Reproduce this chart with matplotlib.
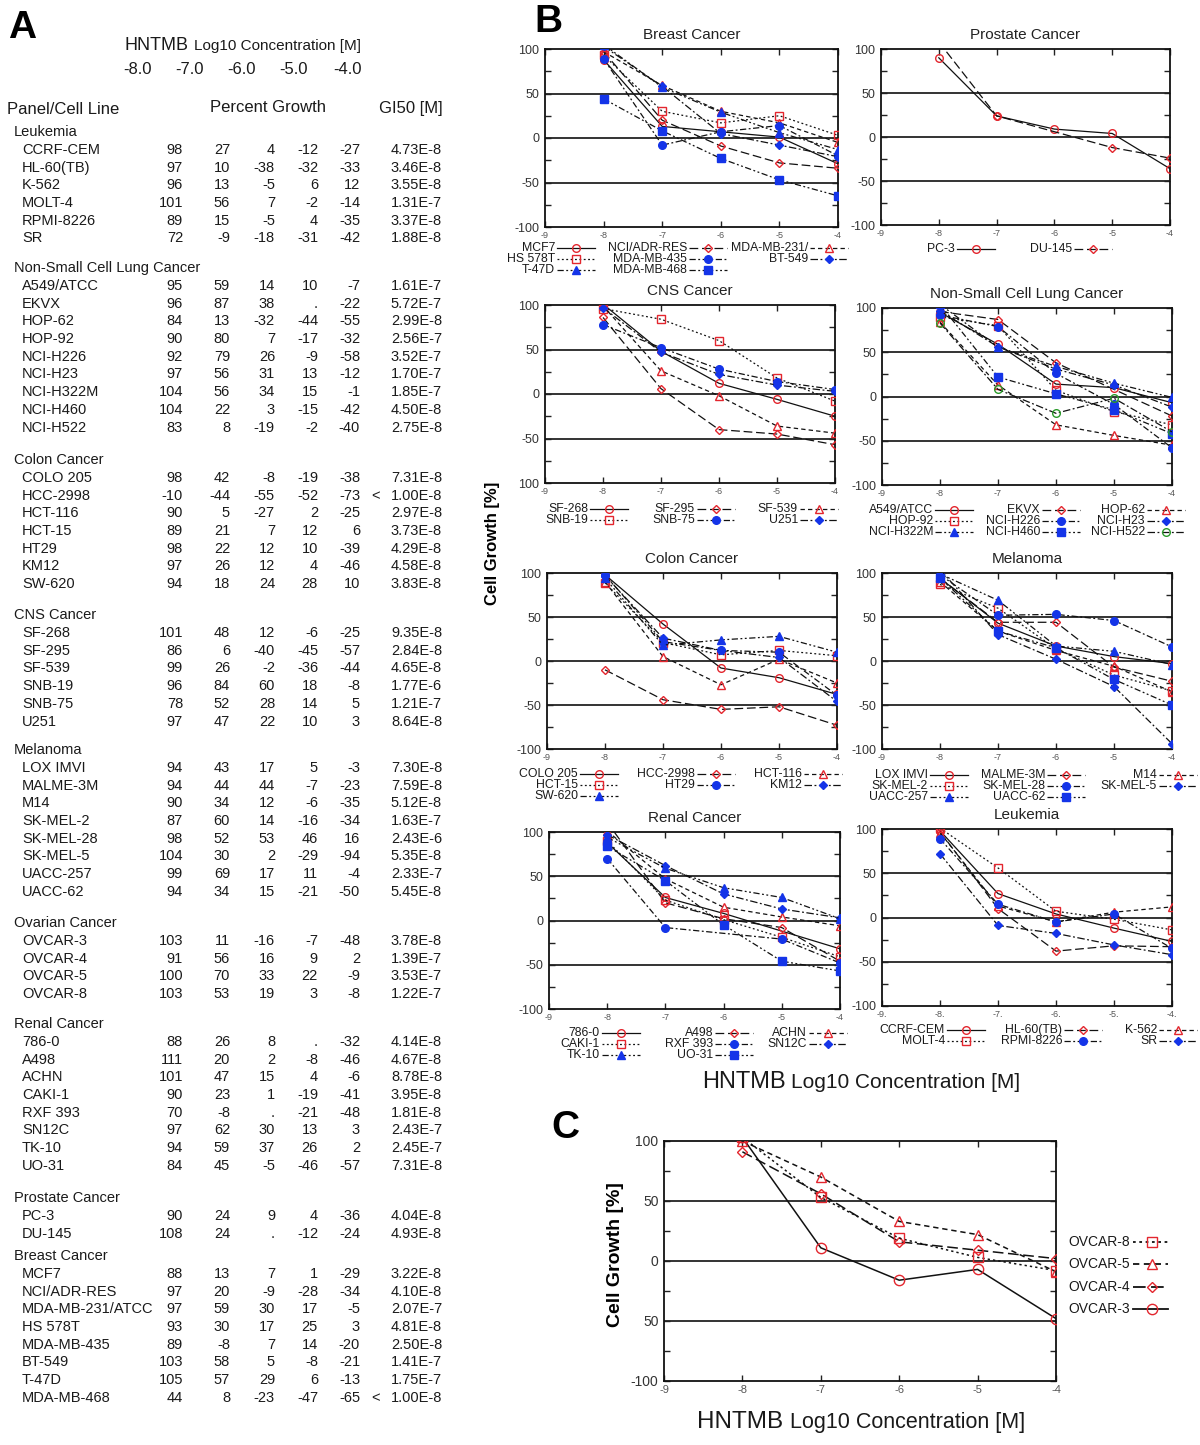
import matplotlib
matplotlib.use('Agg')
import matplotlib.pyplot as plt
from matplotlib.lines import Line2D
from matplotlib import font_manager as fm

# 字体：优先使用窄体
names_installed = {f.name for f in fm.fontManager.ttflist}
NARROW = 'Liberation Sans Narrow' if 'Liberation Sans Narrow' in names_installed else 'Liberation Sans'
plt.rcParams['font.family'] = ['Liberation Sans', 'DejaVu Sans']
plt.rcParams['axes.unicode_minus'] = False

# ---------------- data (NCI-60 five-dose table) ----------------
conc = [-8, -7, -6, -5, -4]
conc_labels = ['-8.0', '-7.0', '-6.0', '-5.0', '-4.0']

leukemia_lines = ['CCRF-CEM', 'HL-60(TB)', 'K-562', 'MOLT-4', 'RPMI-8226', 'SR']
leukemia_growth = [[98, 27, 4, -12, -27], [97, 10, -38, -32, -33], [96, 13, -5, 6, 12],
                   [101, 56, 7, -2, -14], [89, 15, -5, 4, -35], [72, -9, -18, -31, -42]]
leukemia_gi50 = ['4.73E-8', '3.46E-8', '3.55E-8', '1.31E-7', '3.37E-8', '1.88E-8']

nsclc_lines = ['A549/ATCC', 'EKVX', 'HOP-62', 'HOP-92', 'NCI-H226', 'NCI-H23',
               'NCI-H322M', 'NCI-H460', 'NCI-H522']
nsclc_growth = [[95, 59, 14, 10, -7], [96, 87, 38, None, -22], [84, 13, -32, -44, -55],
                [90, 80, 7, -17, -32], [92, 79, 26, -9, -58], [97, 56, 31, 13, -12],
                [104, 56, 34, 15, -1], [104, 22, 3, -15, -42], [83, 8, -19, -2, -40]]
nsclc_gi50 = ['1.61E-7', '5.72E-7', '2.99E-8', '2.56E-7', '3.52E-7', '1.70E-7',
              '1.85E-7', '4.50E-8', '2.75E-8']

colon_lines = ['COLO 205', 'HCC-2998', 'HCT-116', 'HCT-15', 'HT29', 'KM12', 'SW-620']
colon_growth = [[98, 42, -8, -19, -38], [-10, -44, -55, -52, -73], [90, 5, -27, 2, -25],
                [89, 21, 7, 12, 6], [98, 22, 12, 10, -39], [97, 26, 12, 4, -46],
                [94, 18, 24, 28, 10]]
colon_gi50 = ['7.31E-8', '<1.00E-8', '2.97E-8', '3.73E-8', '4.29E-8', '4.58E-8', '3.83E-8']

cns_lines = ['SF-268', 'SF-295', 'SF-539', 'SNB-19', 'SNB-75', 'U251']
cns_growth = [[101, 48, 12, -6, -25], [86, 6, -40, -45, -57], [99, 26, -2, -36, -44],
              [96, 84, 60, 18, -8], [78, 52, 28, 14, 5], [97, 47, 22, 10, 3]]
cns_gi50 = ['9.35E-8', '2.84E-8', '4.65E-8', '1.77E-6', '1.21E-7', '8.64E-8']

melanoma_lines = ['LOX IMVI', 'MALME-3M', 'M14', 'SK-MEL-2', 'SK-MEL-28', 'SK-MEL-5',
                  'UACC-257', 'UACC-62']
melanoma_growth = [[94, 43, 17, 5, -3], [94, 44, 44, -7, -23], [90, 34, 12, -6, -35],
                   [87, 60, 14, -16, -34], [98, 52, 53, 46, 16], [104, 30, 2, -29, -94],
                   [99, 69, 17, 11, -4], [94, 34, 15, -21, -50]]
melanoma_gi50 = ['7.30E-8', '7.59E-8', '5.12E-8', '1.63E-7', '2.43E-6', '5.35E-8',
                 '2.33E-7', '5.45E-8']

ovarian_lines = ['OVCAR-3', 'OVCAR-4', 'OVCAR-5', 'OVCAR-8']
ovarian_growth = [[103, 11, -16, -7, -48], [91, 56, 16, 9, 2], [100, 70, 33, 22, -9],
                  [103, 53, 19, 3, -8]]
ovarian_gi50 = ['3.78E-8', '1.39E-7', '3.53E-7', '1.22E-7']

renal_lines = ['786-0', 'A498', 'ACHN', 'CAKI-1', 'RXF 393', 'SN12C', 'TK-10', 'UO-31']
renal_growth = [[88, 26, 8, None, -32], [111, 20, 2, -8, -46], [101, 47, 15, 4, -6],
                [90, 23, 1, -19, -41], [70, -8, None, -21, -48], [97, 62, 30, 13, 3],
                [94, 59, 37, 26, 2], [84, 45, -5, -46, -57]]
renal_gi50 = ['4.14E-8', '4.67E-8', '8.78E-8', '3.95E-8', '1.81E-8', '2.43E-7',
              '2.45E-7', '7.31E-8']

prostate_lines = ['PC-3', 'DU-145']
prostate_growth = [[90, 24, 9, 4, -36], [108, 24, None, -12, -24]]
prostate_gi50 = ['4.04E-8', '4.93E-8']

breast_lines = ['MCF7', 'NCI/ADR-RES', 'MDA-MB-231/ATCC', 'HS 578T', 'MDA-MB-435',
                'BT-549', 'T-47D', 'MDA-MB-468']
breast_growth = [[88, 13, 7, 1, -29], [97, 20, -9, -28, -34], [97, 59, 30, 17, -5],
                 [93, 30, 17, 25, 3], [89, -8, 7, 14, -20], [103, 58, 5, -8, -21],
                 [105, 57, 29, 6, -13], [44, 8, -23, -47, -65]]
breast_gi50 = ['3.22E-8', '4.10E-8', '2.07E-7', '4.81E-8', '2.50E-8', '1.41E-7',
               '1.75E-7', '<1.00E-8']

legend_names = {'MDA-MB-231/ATCC': 'MDA-MB-231/'}

# ---------------- styles ----------------
RED = '#e3262e'
BLUE = '#1434e8'
GREEN = '#2a9a2a'
INK = '#1a1a1a'
# (linestyle, marker, facecolor, edgecolor, markersize)
series_styles = [
    ('-', 'o', 'none', RED, 5.5),
    ((0, (7, 3)), 'D', 'none', RED, 3.8),
    ((0, (3.5, 2.5)), '^', 'none', RED, 5.5),
    ((0, (1.5, 2)), 's', 'none', RED, 5.5),
    ((0, (5, 2, 1.5, 2)), 'o', BLUE, BLUE, 5.5),
    ((0, (6, 2, 1.5, 2)), 'D', BLUE, BLUE, 4),
    ((0, (5, 2, 1.5, 2, 1.5, 2)), '^', BLUE, BLUE, 5.5),
    ((0, (5, 2, 1.5, 2, 1.5, 2)), 's', BLUE, BLUE, 5.5),
    ((0, (6, 2, 1.5, 2)), 'o', 'none', GREEN, 5.5),
]

W, H = 1200, 1445
fig = plt.figure(figsize=(W / 100, H / 100), dpi=100)
fig.patch.set_facecolor('white')
renderer = fig.canvas.get_renderer()


def fx(x):
    return x / W


def fy(y):
    return 1 - y / H


def put(x, y, s, **kw):
    kw.setdefault('va', 'center')
    kw.setdefault('color', INK)
    return fig.text(fx(x), fy(y), s, **kw)


def two_part(xc, y, s1, fs1, s2, fs2, gap=6):
    """HNTMB + Log10 ... 两段字号不同的标题，整体居中"""
    t1 = put(0, y, s1, family=NARROW, fontsize=fs1, va='baseline')
    t2 = put(0, y, s2, family=NARROW, fontsize=fs2, va='baseline')
    w1 = t1.get_window_extent(renderer).width
    w2 = t2.get_window_extent(renderer).width
    x0 = xc - (w1 + gap + w2) / 2
    t1.set_x(fx(x0))
    t2.set_x(fx(x0 + w1 + gap))


# ---------------- panel A: table ----------------
put(22, 28, 'A', ha='center', fontsize=28, fontweight='bold', color='black')
two_part(243, 50, 'HNTMB', 13, 'Log10 Concentration [M]', 11)
for xc, lab in zip([137, 189, 242, 294, 347], conc_labels):
    put(xc, 69, lab, ha='center', family=NARROW, fontsize=12)
put(7, 109, 'Panel/Cell Line', family=NARROW, fontsize=12)
put(268, 108, 'Percent Growth', ha='center', family=NARROW, fontsize=12)
put(443, 108, 'GI50 [M]', ha='right', family=NARROW, fontsize=12)

table_groups = [
    ('Leukemia', leukemia_lines, leukemia_growth, leukemia_gi50),
    ('Non-Small Cell Lung Cancer', nsclc_lines, nsclc_growth, nsclc_gi50),
    ('Colon Cancer', colon_lines, colon_growth, colon_gi50),
    ('CNS Cancer', cns_lines, cns_growth, cns_gi50),
    ('Melanoma', melanoma_lines, melanoma_growth, melanoma_gi50),
    ('Ovarian Cancer', ovarian_lines, ovarian_growth, ovarian_gi50),
    ('Renal Cancer', renal_lines, renal_growth, renal_gi50),
    ('Prostate Cancer', prostate_lines, prostate_growth, prostate_gi50),
    ('Breast Cancer', breast_lines, breast_growth, breast_gi50),
]
header_y = [132, 268, 460, 615, 750, 923, 1024, 1198, 1256]
num_right = [183, 230, 275, 318, 360]
TFS = 10.5

for (gname, lines, growth, gi50), hy in zip(table_groups, header_y):
    put(14, hy, gname, fontsize=TFS)
    for i, (name, vals, g) in enumerate(zip(lines, growth, gi50)):
        y = hy + 18 + i * 17.7
        put(22, y, name, fontsize=TFS)
        for xr, v in zip(num_right, vals):
            put(xr, y, '.' if v is None else str(v), ha='right', fontsize=TFS)
        if g.startswith('<'):
            put(376, y, '<', ha='center', fontsize=TFS)
            g = g[1:]
        put(442, y, g, ha='right', fontsize=TFS)


# ---------------- panel B / C helpers ----------------
def make_axes(l, t, r, b):
    return fig.add_axes([fx(l), fy(b), (r - l) / W, (b - t) / H])


def style_axes(ax, yfs=9, xfs=6.5, ylabels=None, xlabels=None):
    ax.set_xlim(-9, -4)
    ax.set_ylim(-100, 100)
    ax.set_xticks(range(-9, -3))
    ax.set_yticks([-100, -50, 0, 50, 100])
    ax.set_yticks([-75, -25, 25, 75], minor=True)
    if ylabels is not None:
        ax.set_yticklabels(ylabels)
    if xlabels is not None:
        ax.set_xticklabels(xlabels)
    ax.tick_params(which='both', direction='in', top=True, right=True, length=4,
                   width=1, color='#222')
    ax.tick_params(axis='y', labelsize=yfs, labelcolor='#333', pad=4)
    ax.tick_params(axis='x', labelsize=xfs, labelcolor='#555', pad=3)
    for s in ax.spines.values():
        s.set_linewidth(1.3)
        s.set_color('#111')
    for yl in (50, 0, -50):
        ax.axhline(yl, color='#111', lw=1.2, zorder=1)


def plot_series(ax, growth, idx, mscale=1.0, lw=0.9):
    ls, mk, fc, ec, ms = series_styles[idx]
    xs = [c for c, v in zip(conc, growth) if v is not None]
    ys = [v for v in growth if v is not None]
    ax.plot(xs, ys, color='#111', lw=lw, ls=ls, marker=mk, mfc=fc, mec=ec,
            ms=ms * mscale, mew=1.0, zorder=3)


def draw_key(names, col_right, y0, fs=8.8, dy=11, sample=38, ncol=3):
    for i, name in enumerate(names):
        r, c = divmod(i, ncol)
        xr = col_right[c]
        y = y0 + r * dy
        ls, mk, fc, ec, ms = series_styles[i]
        put(xr - sample - 2, y, legend_names.get(name, name), ha='right', fontsize=fs)
        fig.add_artist(Line2D([fx(xr - sample), fx(xr)], [fy(y), fy(y)],
                              transform=fig.transFigure, color='#111', lw=0.9, ls=ls))
        fig.add_artist(Line2D([fx(xr - sample / 2)], [fy(y)], transform=fig.transFigure,
                              marker=mk, mfc=fc, mec=ec, ms=ms, mew=1.0, ls='none'))


# ---------------- panel B ----------------
put(548, 22, 'B', ha='center', fontsize=28, fontweight='bold', color='black')

b_panels = [
    ('Breast Cancer', breast_lines, breast_growth, (545, 49, 838, 227), [595, 727, 848], 248),
    ('Prostate Cancer', prostate_lines, prostate_growth, (881, 49, 1170, 225), [995, 1112], 249),
    ('CNS Cancer', cns_lines, cns_growth, (545, 305, 835, 483), [628, 735, 838], 509),
    ('Non-Small Cell Lung Cancer', nsclc_lines, nsclc_growth, (882, 308, 1172, 485),
     [973, 1080, 1185], 510),
    ('Colon Cancer', colon_lines, colon_growth, (547, 573, 837, 749), [618, 735, 842], 774),
    ('Melanoma', melanoma_lines, melanoma_growth, (882, 573, 1172, 749), [968, 1085, 1197], 775),
    ('Renal Cancer', renal_lines, renal_growth, (549, 832, 840, 1009), [640, 753, 847], 1033),
    ('Leukemia', leukemia_lines, leukemia_growth, (882, 829, 1172, 1006), [985, 1102, 1197], 1030),
]

for title, lines, growth, box, cols, ky in b_panels:
    ax = make_axes(*box)
    ylabels = None
    xlabels = None
    if title == 'CNS Cancer':
        ylabels = ['100', '-50', '0', '50', '100']
    if title == 'Leukemia':
        xlabels = ['-9.', '-8.', '-7.', '-6.', '-5.', '-4.']
    style_axes(ax, ylabels=ylabels, xlabels=xlabels)
    for i, g in enumerate(growth):
        plot_series(ax, g, i)
    ax.set_title(title, family=NARROW, fontsize=11, color='#222', pad=7)
    draw_key(lines, cols, ky)

put(493, 543, 'Cell Growth [%]', ha='center', rotation=90, fontsize=12,
    fontweight='bold', color='black')
two_part(861, 1088, 'HNTMB', 17, 'Log10 Concentration [M]', 15)

# ---------------- panel C (ovarian) ----------------
put(565, 1128, 'C', ha='center', fontsize=28, fontweight='bold', color='black')
axc = make_axes(664, 1141, 1056, 1381)
style_axes(axc, yfs=10, xfs=8, ylabels=['-100', '50', '0', '50', '100'])
for i, g in enumerate(ovarian_growth):
    plot_series(axc, g, i, mscale=1.35, lw=1.1)

order = [3, 2, 1, 0]
for k, i in enumerate(order):
    y = [1242, 1264, 1287, 1309][k]
    ls, mk, fc, ec, ms = series_styles[i]
    put(1130, y, ovarian_lines[i], ha='right', family=NARROW, fontsize=10)
    fig.add_artist(Line2D([fx(1133), fx(1168)], [fy(y), fy(y)], transform=fig.transFigure,
                          color='#111', lw=1.3, ls=ls))
    fig.add_artist(Line2D([fx(1152)], [fy(y)], transform=fig.transFigure, marker=mk,
                          mfc=fc, mec=ec, ms=ms * 1.35, mew=1.0, ls='none'))

put(615, 1255, 'Cell Growth [%]', ha='center', rotation=90, fontsize=14,
    fontweight='bold', color='black')
two_part(861, 1428, 'HNTMB', 17.5, 'Log10 Concentration [M]', 15.5)

fig.savefig('out.png', dpi=100)
